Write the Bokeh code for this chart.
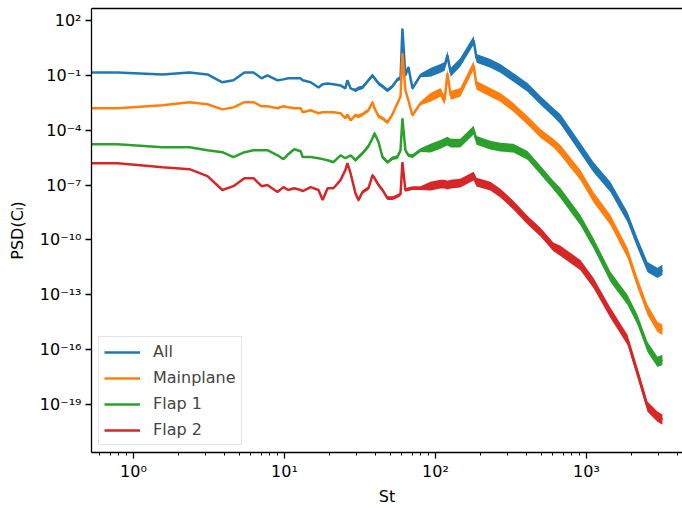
import numpy as np
from bokeh.plotting import figure
from bokeh.models import (Range1d, FixedTicker, CustomJSTickFormatter, LogAxis,
                          Legend, LegendItem)
from bokeh.embed import file_html
from bokeh.resources import INLINE

# ---- data (St, log10 PSD) ----
ST = [0.527, 0.783, 1.56, 2.35, 3.09, 3.88, 4.59, 5.43, 6.24, 7.05, 7.71, 8.99, 9.84,
      10.6, 11.6, 12.8, 13.2, 14.9, 16.8, 17.9, 19.3, 21.1, 23.5, 25.3, 26.1, 27.4,
      29.5, 30.9, 32.9, 36.0, 38.3, 39.5, 42.0, 44.6, 48.1, 51.9, 56.0, 58.7, 60.4,
      63.2, 66.2, 70.4, 79.6, 92.7, 108, 115, 120, 126, 146, 179, 187, 231, 269, 328,
      407, 496, 604, 673, 912, 1112, 1442, 1870, 2178, 2536, 2951, 3185]

ALL_LOG = [-0.84, -0.84, -0.95, -0.84, -0.95, -1.38, -1.27, -0.84, -0.84, -1.16, -1.00,
           -1.27, -1.22, -1.16, -1.16, -1.16, -1.27, -1.38, -1.66, -1.49, -1.44, -1.49,
           -1.55, -1.71, -1.27, -1.71, -1.82, -1.71, -1.66, -1.27, -1.00, -1.16, -1.44,
           -1.60, -1.82, -1.60, -1.22, -1.16, 1.56, -1.00, -0.56, -1.71, -1.00, -0.84,
           -0.62, -0.51, 0.09, -0.84, -0.29, 0.91, -0.07, -0.35, -0.62, -1.11, -1.66,
           -2.37, -3.02, -3.40, -4.98, -6.02, -7.11, -8.75, -10.17, -11.48, -11.80, -11.64]

MAIN_LOG = [-2.80, -2.80, -2.64, -2.47, -2.58, -2.86, -2.75, -2.47, -2.47, -2.69, -2.69,
            -2.80, -2.69, -2.75, -2.80, -2.80, -3.02, -2.91, -3.07, -3.02, -3.02, -3.02,
            -3.07, -3.35, -3.13, -3.46, -3.18, -3.24, -3.13, -2.91, -2.47, -2.80, -3.24,
            -3.35, -3.57, -3.13, -2.53, -2.15, 0.20, -1.82, -2.37, -3.18, -2.53, -2.20,
            -1.93, -2.37, -0.89, -2.09, -1.93, -0.46, -1.55, -1.93, -2.20, -2.75, -3.46,
            -4.17, -4.71, -5.09, -6.46, -7.66, -8.91, -10.71, -12.35, -13.82, -14.75, -14.91]

FLAP1_LOG = [-4.77, -4.77, -4.93, -4.93, -5.09, -5.20, -5.47, -5.20, -5.09, -5.09, -5.09,
             -5.37, -5.58, -5.31, -5.04, -5.15, -5.47, -5.47, -5.53, -5.58, -5.64, -5.75,
             -5.37, -5.53, -5.47, -5.37, -5.64, -5.47, -5.26, -4.87, -4.44, -4.17, -4.66,
             -5.47, -5.75, -5.53, -5.47, -5.09, -3.35, -5.09, -5.37, -5.42, -5.09, -4.98,
             -4.77, -4.66, -4.60, -4.71, -4.71, -4.00, -4.55, -4.82, -4.93, -4.98, -5.37,
             -6.18, -7.00, -7.44, -8.91, -10.17, -12.02, -13.28, -14.37, -15.84, -16.66, -16.55]

FLAP2_LOG = [-5.80, -5.80, -6.02, -6.13, -6.51, -7.27, -7.06, -6.62, -6.62, -7.06, -7.00,
             -7.38, -7.11, -7.27, -7.17, -7.27, -7.33, -7.11, -7.27, -7.82, -7.17, -7.17,
             -6.73, -6.18, -5.80, -6.35, -7.44, -7.82, -7.38, -7.17, -6.46, -6.62, -7.00,
             -7.27, -7.71, -7.71, -7.60, -7.49, -5.75, -7.27, -7.22, -7.17, -7.17, -7.06,
             -6.95, -6.95, -7.00, -6.95, -6.89, -6.51, -6.84, -7.06, -7.44, -8.09, -8.91,
             -9.57, -10.38, -10.60, -11.37, -12.35, -13.99, -15.46, -17.26, -19.11, -19.66, -19.82]

# half-width (decades) of the high-frequency noise band seen in the reference
NOISE_DEX = [0.0] * 26 + [0.1] * 17 + [0.24] * 14 + [0.28] * 9

SERIES = [("All", ALL_LOG, "#1f77b4"),
          ("Mainplane", MAIN_LOG, "#ff7f0e"),
          ("Flap 1", FLAP1_LOG, "#2ca02c"),
          ("Flap 2", FLAP2_LOG, "#d62728")]

FONT = "DejaVu Sans"
FS = "16px"

p = figure(width=682, height=508, x_axis_type="log", y_axis_type="log",
           x_range=Range1d(10 ** -0.278, 10 ** 3.636),
           y_range=Range1d(10 ** -21.62, 10 ** 2.655),
           output_backend="svg", toolbar_location=None,
           min_border_left=91, min_border_right=0, min_border_top=8,
           min_border_bottom=55)
p.outline_line_color = None
p.grid.visible = False
p.background_fill_color = "white"
p.border_fill_color = "white"

sup_code = """
const sup = {'0':'\u2070','1':'\u00b9','2':'\u00b2','3':'\u00b3','4':'\u2074',
             '5':'\u2075','6':'\u2076','7':'\u2077','8':'\u2078','9':'\u2079','-':'\u207b'};
const e = Math.round(Math.log10(tick));
return '10' + String(e).split('').map(c => sup[c]).join('');
"""

st = np.array(ST)
noise = np.array(NOISE_DEX)
items = []
for name, logs, color in SERIES:
    lv = np.array(logs)
    p.varea(x=st, y1=10 ** (lv - noise), y2=10 ** (lv + noise), fill_color=color,
            fill_alpha=1.0)
    r = p.line(st, 10 ** lv, line_color=color, line_width=2.5)
    items.append(LegendItem(label=name, renderers=[r]))

# axes
xa = p.xaxis[0]
ya = p.yaxis[0]
xa.ticker = FixedTicker(ticks=[1, 10, 100, 1000],
                        minor_ticks=[m * 10 ** k for k in range(-1, 4) for m in range(2, 10)])
ya.ticker = FixedTicker(ticks=[10 ** k for k in range(-19, 3, 3)], minor_ticks=[])
for ax in (xa, ya):
    ax.formatter = CustomJSTickFormatter(code=sup_code)
    ax.major_label_text_font = FONT
    ax.major_label_text_font_size = FS
    ax.major_label_text_color = "black"
    ax.axis_label_text_font = FONT
    ax.axis_label_text_font_size = FS
    ax.axis_label_text_font_style = "normal"
    ax.axis_label_text_color = "black"
    ax.axis_line_color = "black"
    ax.axis_line_width = 1.3
    ax.major_tick_line_color = "black"
    ax.major_tick_line_width = 1.3
    ax.minor_tick_line_color = "black"
    ax.minor_tick_line_width = 1.0
    ax.major_tick_in = 0
    ax.major_tick_out = 6
    ax.minor_tick_in = 0
    ax.minor_tick_out = 3
xa.axis_label = "St"
xa.major_label_standoff = 3
xa.axis_label_standoff = 3
ya.axis_label = "PSD(C\u2097)"
ya.major_label_standoff = 4
ya.axis_label_standoff = 10

top = LogAxis(ticker=FixedTicker(ticks=[]), major_tick_out=0, major_tick_in=0,
              minor_tick_out=0, minor_tick_in=0, major_label_text_font_size="0px",
              axis_line_color="black", axis_line_width=1.3)
p.add_layout(top, "above")

legend = Legend(items=items, location=(7, 7))
legend.label_text_font = FONT
legend.label_text_font_size = FS
legend.glyph_width = 36
legend.glyph_height = 18
legend.label_height = 18
legend.label_standoff = 13
legend.spacing = 7
legend.padding = 5
legend.margin = 0
legend.border_line_color = "#cccccc"
legend.border_line_width = 1
legend.background_fill_alpha = 0.8
p.add_layout(legend, "center")

open("out.html", "w").write(file_html(p, INLINE))
